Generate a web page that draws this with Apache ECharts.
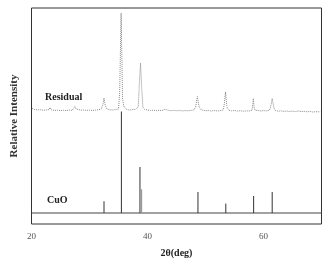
<!DOCTYPE html>
<html>
<head>
<meta charset="utf-8">
<script src="https://cdn.jsdelivr.net/npm/echarts@6.0.0/dist/echarts.min.js"></script>
<style>
  html, body { margin: 0; padding: 0; background: #fff; }
  #chart { width: 330px; height: 264px; }
</style>
</head>
<body>
<div id="chart"></div>
<script>
// x ticks
const xTicks = [20, 40, 60];

// measured residual pattern [2theta, intensity] (arbitrary units, offset above CuO reference)
const residual = [
  [20.1, 104.5], [20.5, 103.6], [21, 103.1], [21.5, 103.3], [22, 102.8], [22.5, 103.0],
  [23, 103.4], [23.2, 105.5], [23.4, 103.2], [24, 102.5], [24.5, 102.9], [25, 102.3],
  [25.5, 102.7], [26, 102.4], [26.5, 103.0], [27, 102.6], [27.3, 104.0], [27.5, 106.5],
  [27.7, 104.0], [28, 103.3], [28.5, 102.8], [29, 103.0], [29.5, 102.6], [30, 102.9],
  [30.5, 102.5], [31, 102.9], [31.5, 103.2], [32, 103.8], [32.3, 108], [32.5, 115],
  [32.7, 108], [33, 104.0], [33.5, 103.3], [34, 103.0], [34.5, 103.5], [35, 104.0],
  [35.2, 120], [35.45, 200], [35.6, 150], [35.7, 114], [35.8, 116], [35.95, 106],
  [36.2, 104], [36.5, 103.3], [37, 103.0], [37.5, 103.5], [38, 103.8], [38.4, 106],
  [38.6, 130], [38.8, 150], [39, 125], [39.2, 106], [39.5, 103.5], [40, 103.0],
  [40.5, 102.5], [41, 102.8], [41.5, 102.4], [42, 102.7], [42.5, 102.5], [43, 103.6],
  [43.3, 102.8], [44, 102.2], [44.5, 102.6], [45, 102.3], [45.5, 102.5], [46, 102.1],
  [46.5, 102.4], [47, 102.2], [47.5, 102.6], [48, 103.0], [48.3, 106], [48.6, 116.5],
  [48.9, 106], [49.2, 103.4], [49.5, 102.6], [50, 102.2], [50.5, 102.5], [51, 102.0],
  [51.5, 102.4], [52, 102.1], [52.5, 102.3], [53, 103.0], [53.2, 107], [53.45, 121],
  [53.7, 106], [54, 102.8], [54.5, 102.2], [55, 102.5], [55.5, 101.9], [56, 102.3],
  [56.5, 101.8], [57, 102.1], [57.5, 102.0], [58, 102.6], [58.1, 106], [58.25, 114.5],
  [58.4, 105], [58.6, 102.4], [59, 102.7], [59.5, 102.0], [60, 102.4], [60.5, 102.1],
  [61, 102.8], [61.2, 105], [61.5, 114.5], [61.8, 105], [62, 102.6], [62.5, 101.8],
  [63, 102.2], [63.5, 101.6], [64, 102.0], [64.5, 101.5], [65, 101.9], [65.5, 101.4],
  [66, 102.1], [66.5, 101.3], [67, 101.8], [67.5, 101.2], [68, 101.5], [68.5, 101.0],
  [69, 101.3], [69.8, 101.1]
];

// CuO reference stick pattern
const cuoPos = [32.5, 35.5, 38.7, 48.7, 53.5, 58.3, 61.5];
const cuoHeight = [11.7, 101.5, 46, 21, 9.4, 17, 21];
const cuoMinorPos = [38.95];
const cuoMinorHeight = [23.7];

function sticks(pos, h) {
  const out = [];
  pos.forEach((x, i) => {
    out.push([x, 0], [x, h[i]], [x, '-']);
  });
  return out;
}

var chart = echarts.init(document.getElementById('chart'));
var serif = 'Liberation Serif';

var option = {
  animation: false,
  grid: {
    left: 31.5, right: 8.5, top: 8, bottom: 40,
    show: true, borderColor: '#333', borderWidth: 1
  },
  xAxis: {
    type: 'value', min: 20, max: 70, interval: 20,
    axisLine: { show: false }, axisTick: { show: false }, splitLine: { show: false },
    axisLabel: {
      color: '#555', fontFamily: serif, fontSize: 9, margin: 8,
      formatter: v => xTicks.includes(v) ? String(v) : ''
    },
    name: '2θ(deg)', nameLocation: 'middle', nameGap: 24,
    nameTextStyle: { fontFamily: serif, fontWeight: 'bold', fontSize: 10, color: '#222' }
  },
  yAxis: {
    type: 'value', min: -11, max: 205,
    axisLine: { show: false }, axisTick: { show: false }, splitLine: { show: false },
    axisLabel: { show: false },
    name: 'Relative Intensity', nameLocation: 'middle', nameGap: 12,
    nameTextStyle: { fontFamily: serif, fontWeight: 'bold', fontSize: 11, color: '#333' }
  },
  graphic: [
    { type: 'text', left: 45, top: 92, style: { text: 'Residual', font: 'bold 10px "Liberation Serif"', fill: '#222' } },
    { type: 'text', left: 47, top: 195, style: { text: 'CuO', font: 'bold 10px "Liberation Serif"', fill: '#222' } }
  ],
  series: [
    {
      name: 'baseline', type: 'line', symbol: 'none', silent: true,
      data: [[20, 0], [70, 0]],
      lineStyle: { color: '#444', width: 1 }
    },
    {
      name: 'CuO', type: 'line', symbol: 'none', connectNulls: false,
      data: sticks(cuoPos, cuoHeight),
      lineStyle: { color: '#333', width: 1 }
    },
    {
      name: 'CuO minor', type: 'line', symbol: 'none', connectNulls: false,
      data: sticks(cuoMinorPos, cuoMinorHeight),
      lineStyle: { color: '#999', width: 1.5 }
    },
    {
      name: 'Residual', type: 'line', symbol: 'none',
      data: residual,
      lineStyle: { color: '#888', width: 1, type: [1, 1] }
    }
  ]
};

option && chart.setOption(option);
</script>
</body>
</html>
